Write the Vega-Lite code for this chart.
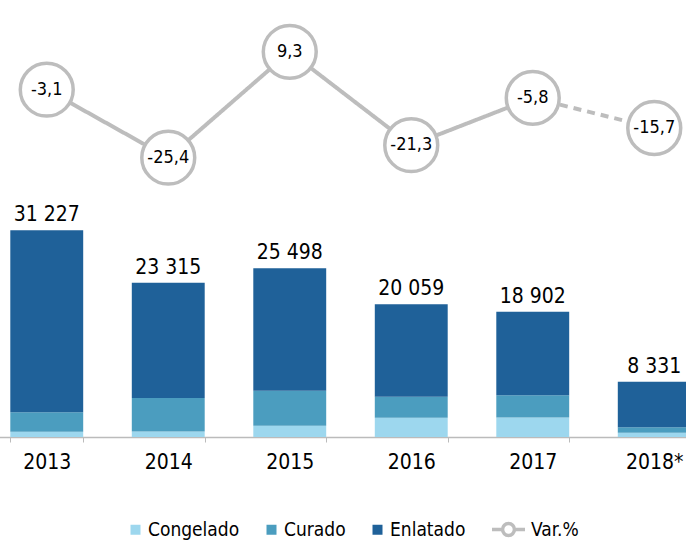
{
  "$schema": "https://vega.github.io/schema/vega-lite/v6.json",
  "width": 686,
  "height": 437,
  "autosize": "none",
  "padding": {"left": 0, "top": 0, "right": 0, "bottom": 110},
  "background": "white",
  "datasets": {
    "prod": [
      {"year": "2013", "tipo": "Congelado", "value": 780},
      {"year": "2013", "tipo": "Curado", "value": 2970},
      {"year": "2013", "tipo": "Enlatado", "value": 27477},
      {"year": "2014", "tipo": "Congelado", "value": 816},
      {"year": "2014", "tipo": "Curado", "value": 5060},
      {"year": "2014", "tipo": "Enlatado", "value": 17439},
      {"year": "2015", "tipo": "Congelado", "value": 1700},
      {"year": "2015", "tipo": "Curado", "value": 5283},
      {"year": "2015", "tipo": "Enlatado", "value": 18515},
      {"year": "2016", "tipo": "Congelado", "value": 2893},
      {"year": "2016", "tipo": "Curado", "value": 3196},
      {"year": "2016", "tipo": "Enlatado", "value": 13970},
      {"year": "2017", "tipo": "Congelado", "value": 2934},
      {"year": "2017", "tipo": "Curado", "value": 3366},
      {"year": "2017", "tipo": "Enlatado", "value": 12602},
      {"year": "2018*", "tipo": "Congelado", "value": 651},
      {"year": "2018*", "tipo": "Curado", "value": 820},
      {"year": "2018*", "tipo": "Enlatado", "value": 6860}
    ],
    "var": [
      {"year": "2013", "var": -3.1, "serie": "Var.%"},
      {"year": "2014", "var": -25.4, "serie": "Var.%"},
      {"year": "2015", "var": 9.3, "serie": "Var.%"},
      {"year": "2016", "var": -21.3, "serie": "Var.%"},
      {"year": "2017", "var": -5.8, "serie": "Var.%"},
      {"year": "2018*", "var": -15.7, "serie": "Var.%"}
    ],
    "varline": [
      {"year": "2013", "var": -3.1, "seg": "real"},
      {"year": "2014", "var": -25.4, "seg": "real"},
      {"year": "2015", "var": 9.3, "seg": "real"},
      {"year": "2016", "var": -21.3, "seg": "real"},
      {"year": "2017", "var": -5.8, "seg": "real"},
      {"year": "2017", "var": -5.8, "seg": "prev"},
      {"year": "2018*", "var": -15.7, "seg": "prev"}
    ]
  },
  "layer": [
    {
      "data": {"name": "prod"},
      "layer": [
        {
          "mark": {"type": "bar"},
          "encoding": {
            "x": {"field": "year", "type": "nominal", "scale": {"domain": ["2013", "2014", "2015", "2016", "2017", "2018*"], "range": [-14, 715], "paddingInner": 0.4, "paddingOuter": 0.2}},
            "y": {"field": "value", "type": "quantitative", "stack": "zero", "scale": {"domain": [0, 66000]}, "axis": null},
            "color": {
              "field": "tipo",
              "type": "nominal",
              "scale": {"domain": ["Congelado", "Curado", "Enlatado"], "range": ["#9dd7ee", "#4b9dbf", "#1f6199"]},
              "legend": {
                "title": null,
                "orient": "none",
                "legendX": 126,
                "legendY": 520,
                "direction": "horizontal",
                "symbolType": "square",
                "symbolSize": 100,
                "symbolStrokeWidth": 0,
                "labelFontSize": 19,
                "labelColor": "#000000",
                "labelOffset": 3,
                "columnPadding": 22
              }
            },
            "order": {"field": "tipo", "sort": "ascending"}
          }
        },
        {
          "mark": {"type": "text", "baseline": "bottom", "dy": -5, "fontSize": 21, "color": "#000000"},
          "encoding": {
            "x": {"field": "year", "type": "nominal", "scale": {"domain": ["2013", "2014", "2015", "2016", "2017", "2018*"], "range": [-14, 715], "paddingInner": 0.4, "paddingOuter": 0.2}},
            "y": {"aggregate": "sum", "field": "value", "type": "quantitative", "scale": {"domain": [0, 66000]}, "axis": null},
            "text": {"aggregate": "sum", "field": "value", "type": "quantitative", "format": ",d"}
          }
        }
      ]
    },
    {
      "layer": [
        {
          "data": {"name": "varline"},
          "mark": {"type": "line", "color": "#bdbdbd", "strokeWidth": 4},
          "encoding": {
            "x": {"field": "year", "type": "nominal"},
            "y": {"field": "var", "type": "quantitative", "scale": {"domain": [-117, 26.3], "zero": false, "nice": false}, "axis": null},
            "strokeDash": {"field": "seg", "type": "nominal", "scale": {"domain": ["real", "prev"], "range": [[1, 0], [8, 6]]}, "legend": null}
          }
        },
        {
          "data": {"name": "var"},
          "mark": {"type": "point", "shape": "circle", "filled": true, "fill": "white", "size": 2800, "strokeWidth": 3.5, "opacity": 1},
          "encoding": {
            "x": {"field": "year", "type": "nominal"},
            "y": {"field": "var", "type": "quantitative", "scale": {"domain": [-117, 26.3], "zero": false, "nice": false}, "axis": null},
            "stroke": {
              "field": "serie",
              "type": "nominal",
              "scale": {"domain": ["Var.%"], "range": ["#bdbdbd"]},
              "legend": {
                "title": null,
                "orient": "none",
                "legendX": 490,
                "legendY": 511,
                "symbolType": "M-1,0L-0.36,0M0.36,0L1,0M0.36,0A0.36,0.36,0,1,1,-0.36,0A0.36,0.36,0,1,1,0.36,0",
                "symbolSize": 1089,
                "symbolStrokeWidth": 3.5,
                "symbolFillColor": "white",
                "labelFontSize": 19,
                "labelColor": "#000000",
                "labelOffset": 4
              }
            }
          }
        },
        {
          "data": {"name": "var"},
          "mark": {"type": "text", "fontSize": 18, "color": "#000000", "baseline": "middle", "align": "center"},
          "encoding": {
            "x": {"field": "year", "type": "nominal"},
            "y": {"field": "var", "type": "quantitative", "scale": {"domain": [-117, 26.3], "zero": false, "nice": false}, "axis": null},
            "text": {"field": "var", "type": "quantitative", "format": ".1f"}
          }
        }
      ]
    }
  ],
  "resolve": {"scale": {"y": "independent"}},
  "config": {
    "view": {"stroke": null},
    "font": "DejaVu Sans Condensed",
    "locale": {"number": {"decimal": ",", "thousands": " ", "grouping": [3], "currency": ["", ""], "minus": "-"}},
    "axisX": {
      "title": null,
      "labelAngle": 0,
      "labelFontSize": 21,
      "labelColor": "#000000",
      "labelPadding": 9,
      "domainColor": "#bbbbbb",
      "domainWidth": 1.5,
      "tickColor": "#bbbbbb",
      "tickSize": 5,
      "tickBand": "extent",
      "grid": false
    }
  }
}
